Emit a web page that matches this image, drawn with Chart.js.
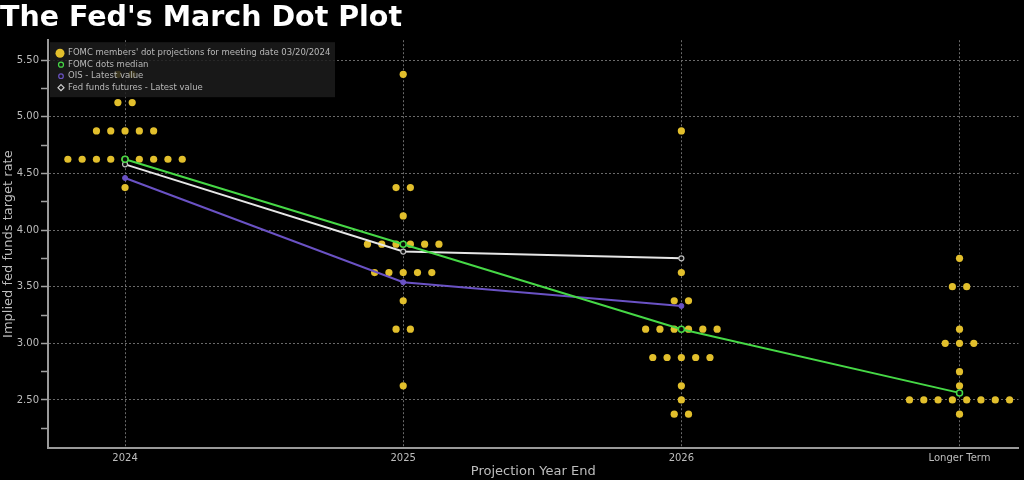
<!DOCTYPE html>
<html>
<head>
<meta charset="utf-8">
<script src="https://cdn.jsdelivr.net/npm/chart.js@4"></script>
<style>
  html, body { margin: 0; padding: 0; background: #000; }
  #wrap { width: 1024px; height: 480px; }
</style>
</head>
<body>
<div id="wrap"><canvas id="dot-plot" width="1024" height="480"></canvas></div>
<script>
// projection buckets on the x axis
const categories = ["2024", "2025", "2026", "Longer Term"];

// rate levels that got dots, and how many dots sit at each level
const dotLevels = [
  [5.375, 5.125, 4.875, 4.625, 4.375],
  [5.375, 4.375, 4.125, 3.875, 3.625, 3.375, 3.125, 2.625],
  [4.875, 3.625, 3.375, 3.125, 2.875, 2.625, 2.5, 2.375],
  [3.75, 3.5, 3.125, 3.0, 2.75, 2.625, 2.5, 2.375],
];
const dotCounts = [
  [2, 2, 5, 9, 1],
  [1, 2, 1, 6, 5, 1, 2, 1],
  [1, 1, 2, 6, 5, 1, 1, 2],
  [1, 2, 1, 3, 1, 1, 8, 1],
];

const medianValues = [4.625, 3.875, 3.125, 2.5625];
const oisValues = [4.46, 3.54, 3.33];
const futuresValues = [4.58, 3.81, 3.75];

const yTicks = [2.25, 2.5, 2.75, 3.0, 3.25, 3.5, 3.75, 4.0, 4.25, 4.5, 4.75, 5.0, 5.25, 5.5];

const legendLabels = [
  "FOMC members' dot projections for meeting date 03/20/2024",
  "FOMC dots median",
  "OIS - Latest value",
  "Fed funds futures - Latest value",
];

const YELLOW = "#e2bf2c";
const GREEN = "#46d846";
const PURPLE = "#6a52c4";
const WHITE = "#e6e6e6";
const GRID = "#6a6a6a";
const dotStep = 0.0514; // side-by-side spacing of dots sharing a level

const dotPoints = [];
dotLevels.forEach((levels, c) => {
  levels.forEach((y, k) => {
    const n = dotCounts[c][k];
    for (let j = 0; j < n; j++) {
      dotPoints.push({ x: c + (j - (n - 1) / 2) * dotStep, y: y });
    }
  });
});

const toXY = (vals) => vals.map((v, i) => ({ x: i, y: v }));

// legend box drawn over the dots, top-left of the plot
const boxLegend = {
  id: "boxLegend",
  afterDatasetsDraw(chart) {
    const { ctx, chartArea } = chart;
    const x0 = chartArea.left + 2;
    const y0 = chartArea.top + 2;
    ctx.save();
    ctx.fillStyle = "rgba(28,28,28,0.85)";
    ctx.fillRect(x0, y0, 285, 55);
    ctx.font = "8.5px 'DejaVu Sans'";
    ctx.textBaseline = "middle";
    legendLabels.forEach((label, i) => {
      const cy = y0 + 11 + i * 11.5;
      const cx = x0 + 10;
      ctx.beginPath();
      if (i === 0) {
        ctx.fillStyle = YELLOW;
        ctx.arc(cx, cy, 4.5, 0, Math.PI * 2);
        ctx.fill();
      } else if (i === 1) {
        ctx.strokeStyle = GREEN;
        ctx.lineWidth = 1.2;
        ctx.arc(cx + 1, cy, 2.5, 0, Math.PI * 2);
        ctx.stroke();
      } else if (i === 2) {
        ctx.strokeStyle = PURPLE;
        ctx.lineWidth = 1.2;
        ctx.arc(cx + 1, cy, 2.3, 0, Math.PI * 2);
        ctx.stroke();
      } else {
        ctx.strokeStyle = "#cfcfcf";
        ctx.lineWidth = 1.2;
        ctx.moveTo(cx + 1, cy - 3);
        ctx.lineTo(cx + 4, cy);
        ctx.lineTo(cx + 1, cy + 3);
        ctx.lineTo(cx - 2, cy);
        ctx.closePath();
        ctx.stroke();
      }
      ctx.fillStyle = "#b8b8b8";
      ctx.fillText(label, x0 + 18, cy);
    });
    ctx.restore();
  },
};

new Chart(document.getElementById("dot-plot"), {
  type: "scatter",
  data: {
    datasets: [
      {
        label: legendLabels[1],
        data: toXY(medianValues),
        showLine: true,
        borderColor: GREEN,
        borderWidth: 2,
        pointRadius: 3,
        pointBorderWidth: 1.5,
        pointBackgroundColor: "#0a0a0a",
        pointBorderColor: GREEN,
      },
      {
        label: legendLabels[3],
        data: toXY(futuresValues),
        showLine: true,
        borderColor: WHITE,
        borderWidth: 2,
        pointStyle: "circle",
        pointRadius: 2.5,
        pointBorderWidth: 1.2,
        pointBackgroundColor: "#111",
        pointBorderColor: "#bdbdbd",
      },
      {
        label: legendLabels[2],
        data: toXY(oisValues),
        showLine: true,
        borderColor: PURPLE,
        borderWidth: 2,
        pointRadius: 2.5,
        pointBorderWidth: 1,
        pointBackgroundColor: PURPLE,
        pointBorderColor: PURPLE,
      },
      {
        label: legendLabels[0],
        data: dotPoints,
        pointRadius: 3.6,
        pointBorderWidth: 0,
        pointBackgroundColor: YELLOW,
      },
    ],
  },
  options: {
    responsive: false,
    animation: false,
    layout: { padding: 0 },
    plugins: {
      legend: { display: false },
      tooltip: { enabled: false },
      title: {
        display: true,
        text: "The Fed's March Dot Plot",
        align: "start",
        color: "#ffffff",
        font: { family: "DejaVu Sans", weight: "bold", size: 28.5, lineHeight: 1.2 },
        padding: { top: 1, bottom: 5 },
      },
    },
    scales: {
      x: {
        type: "linear",
        min: -0.277,
        max: 3.212,
        afterBuildTicks: (axis) => {
          axis.ticks = categories.map((_, i) => ({ value: i }));
        },
        afterFit: (axis) => {
          axis.height = 32;
        },
        ticks: {
          autoSkip: false,
          maxRotation: 0,
          padding: 4,
          color: "#bdbdbd",
          font: { family: "DejaVu Sans", size: 10 },
          callback: (v) => categories[v],
        },
        grid: {
          color: GRID,
          drawTicks: false,
        },
        border: { color: "#9a9a9a", width: 2, dash: [2, 2] },
        title: {
          display: true,
          text: "Projection Year End",
          color: "#bdbdbd",
          font: { family: "DejaVu Sans", size: 13 },
          padding: { top: 0, bottom: 1 },
        },
      },
      y: {
        min: 2.076,
        max: 5.676,
        afterBuildTicks: (axis) => {
          axis.ticks = yTicks.map((v) => ({ value: v }));
        },
        afterFit: (axis) => {
          axis.width = 48;
        },
        ticks: {
          padding: 2,
          color: "#bdbdbd",
          font: { family: "DejaVu Sans", size: 10 },
          callback: (v) => (v % 0.5 === 0 ? v.toFixed(2) : ""),
        },
        grid: {
          color: (ctx) => (ctx.tick && ctx.tick.value % 0.5 === 0 ? GRID : "rgba(0,0,0,0)"),
          tickColor: "#a0a0a0",
          tickLength: 7,
          tickWidth: 1.5,
        },
        border: { color: "#9a9a9a", width: 2, dash: [2, 2] },
        title: {
          display: true,
          text: "Implied fed funds target rate",
          color: "#bdbdbd",
          font: { family: "DejaVu Sans", size: 13 },
          padding: { top: 1, bottom: 0 },
        },
      },
    },
  },
  plugins: [boxLegend],
});
</script>
</body>
</html>
